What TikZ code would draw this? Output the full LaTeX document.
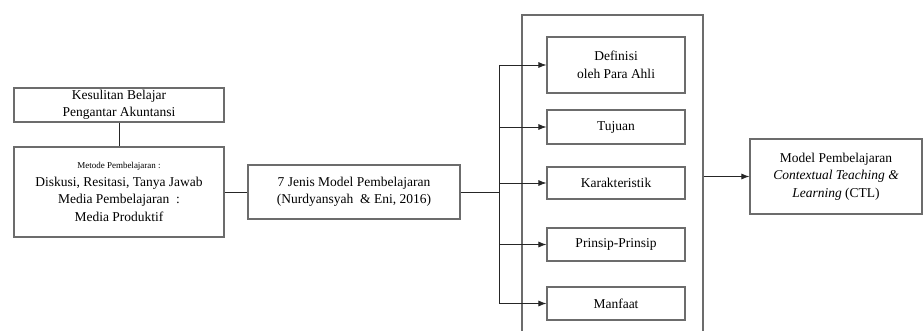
\documentclass[tikz,border=0pt]{standalone}
\usepackage{fontspec}
\setmainfont{Liberation Serif}
\usetikzlibrary{positioning,arrows.meta}

\begin{document}
\begin{tikzpicture}[
    x=1pt, y=-1pt,
    box/.style={rectangle, draw=gray!85!black, line width=1.2pt, fill=white, align=center, inner sep=2pt,
        font=\fontsize{13.5}{17.5}\selectfont},
    arrow/.style={-{Latex[length=8pt,width=6pt]}, line width=0.8pt, draw=black!85},
    link/.style={line width=0.8pt, draw=black!85}
]
    \useasboundingbox (0,0) rectangle (924,331);
    \clip (0,0) rectangle (924,331);
    % left column
    \node (kesulitan) [box, minimum width=210pt, minimum height=34pt] at (119,105) {Kesulitan Belajar\\Pengantar Akuntansi};
    \node (metode) [box, minimum width=210pt, minimum height=90pt] at (119,192)
        {{\fontsize{9}{11}\selectfont Metode Pembelajaran :}\\Diskusi, Resitasi, Tanya Jawab\\Media Pembelajaran \ :\\Media Produktif};
    \node (jenis) [box, minimum width=212pt, minimum height=54pt] at (354,192) {7 Jenis Model Pembelajaran\\(Nurdyansyah \ \& Eni, 2016)};
    % panel with the five aspects
    \node (panel) [box, minimum width=181pt, minimum height=330pt] at (612.5,180) {};
    \node (definisi) [box, minimum width=138pt, minimum height=56pt] at (616,65) {Definisi\\oleh Para Ahli};
    \node (tujuan) [box, minimum width=138pt, minimum height=34pt] at (616,127) {Tujuan};
    \node (karakter) [box, minimum width=138pt, minimum height=32pt] at (616,183) {Karakteristik};
    \node (prinsip) [box, minimum width=138pt, minimum height=33pt] at (616,244.5) {Prinsip-Prinsip};
    \node (manfaat) [box, minimum width=138pt, minimum height=33pt] at (616,303.5) {Manfaat};
    % result
    \node (ctl) [box, minimum width=172pt, minimum height=75pt] at (836,176.5)
        {Model Pembelajaran\\\textit{Contextual Teaching \&}\\\textit{Learning} (CTL)};
    \coordinate (bus) at (499,192);
    \draw [link] (kesulitan) -- (metode);
    \draw [link] (metode) -- (jenis);
    \draw [link] (jenis) -- (bus);
    \draw [link] (bus |- definisi) -- (bus |- manfaat);
    \foreach \aspek in {definisi, tujuan, karakter, prinsip, manfaat}
        \draw [arrow] (bus |- \aspek) -- (\aspek);
    \draw [arrow] (panel.east |- ctl) -- (ctl);
\end{tikzpicture}
\end{document}
